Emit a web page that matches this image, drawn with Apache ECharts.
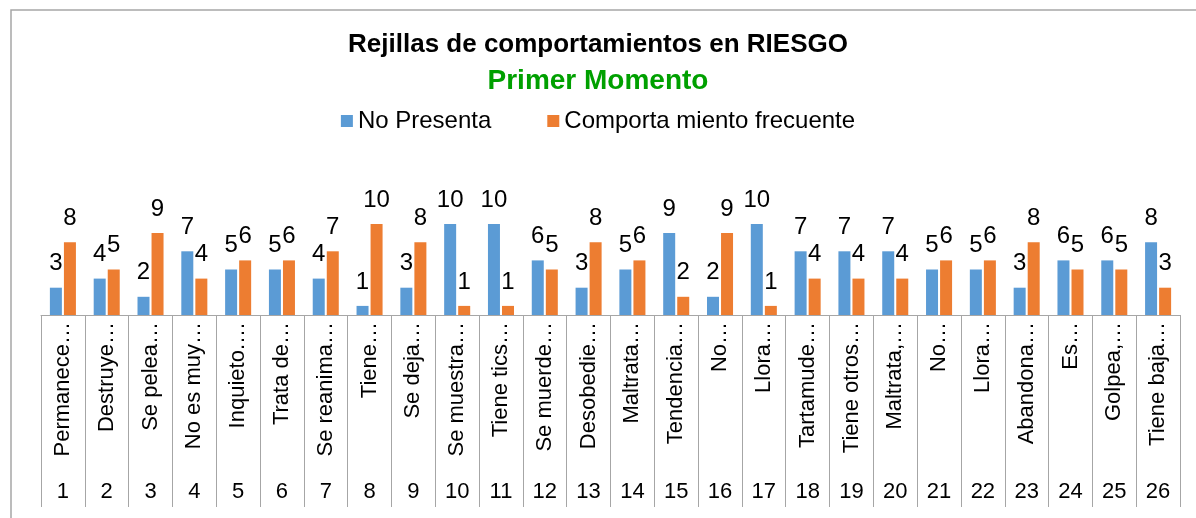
<!DOCTYPE html>
<html>
<head>
<meta charset="utf-8">
<script src="https://cdn.jsdelivr.net/npm/echarts@6/dist/echarts.min.js"></script>
<style>
html,body{margin:0;padding:0;background:#fff;}
#chart{width:1196px;height:518px;}
</style>
</head>
<body>
<div id="chart"></div>
<script>
const categoryLabels = ["Permanece…","Destruye…","Se pelea…","No es muy…","Inquieto.…","Trata de…","Se reanima…","Tiene…","Se deja…","Se muestra…","Tiene tics…","Se muerde…","Desobedie…","Maltrata…","Tendencia…","No…","Llora…","Tartamude…","Tiene otros…","Maltrata,…","No…","Llora…","Abandona…","Es…","Golpea,…","Tiene baja…"];
const numberLabels = ["1","2","3","4","5","6","7","8","9","10","11","12","13","14","15","16","17","18","19","20","21","22","23","24","25","26"];
const noPresenta = [3,4,2,7,5,5,4,1,3,10,10,6,3,5,9,2,10,7,7,7,5,5,3,6,6,8];
const comportamiento = [8,5,9,4,6,6,7,10,8,1,1,5,8,6,2,9,1,4,4,4,6,6,8,5,5,3];
const seriesNames = ["No Presenta","Comporta miento frecuente"];
const titleText = "Rejillas de comportamientos en RIESGO";
const subtitleText = "Primer Momento";

const FONT = "Liberation Sans";
const chart = echarts.init(document.getElementById('chart'), null, {renderer:'canvas'});
const labelCfg = {show:true, position:'top', distance:12, color:'#000', fontSize:24, fontFamily:FONT};
chart.setOption({
  animation:false,
  backgroundColor:'#fff',
  textStyle:{fontFamily:FONT},
  title:[
    {text:titleText, left:'center', top:27, textStyle:{fontSize:26, fontWeight:'bold', color:'#000', fontFamily:FONT}},
    {text:subtitleText, left:'center', top:62, textStyle:{fontSize:28, fontWeight:'bold', color:'#00A000', fontFamily:FONT}}
  ],
  legend:{
    top:104, left:'center', itemWidth:12, itemHeight:12, itemGap:56,
    textStyle:{fontSize:24, color:'#000', fontFamily:FONT},
    data:seriesNames.map(n=>({name:n, icon:'rect'}))
  },
  graphic:[{type:'rect', shape:{x:11, y:10, width:1220, height:600}, style:{fill:'none', stroke:'#a6a6a6', lineWidth:1.5}, silent:true}],
  grid:{left:41, right:16, top:224, bottom:203, containLabel:false},
  xAxis:[
    {type:'category', data:categoryLabels, position:'bottom',
     axisLine:{show:true, lineStyle:{color:'#a6a6a6', width:1}},
     axisTick:{show:true, length:192, interval:0, lineStyle:{color:'#a6a6a6'}},
     axisLabel:{interval:0, rotate:90, margin:7, fontSize:22, color:'#000', fontFamily:FONT}},
    {type:'category', data:numberLabels, position:'bottom',
     axisLine:{show:false}, axisTick:{show:false},
     axisLabel:{interval:0, margin:166, fontSize:22, color:'#000', fontFamily:FONT}}
  ],
  yAxis:{type:'value', min:0, max:10, show:false, splitLine:{show:false}},
  series:[
    {name:seriesNames[0], type:'bar', data:noPresenta, barWidth:12, barGap:'17%', itemStyle:{color:'#5B9BD5'}, label:labelCfg},
    {name:seriesNames[1], type:'bar', data:comportamiento, barWidth:12, barGap:'17%', itemStyle:{color:'#ED7D31'}, label:labelCfg}
  ]
});
</script>
</body>
</html>
